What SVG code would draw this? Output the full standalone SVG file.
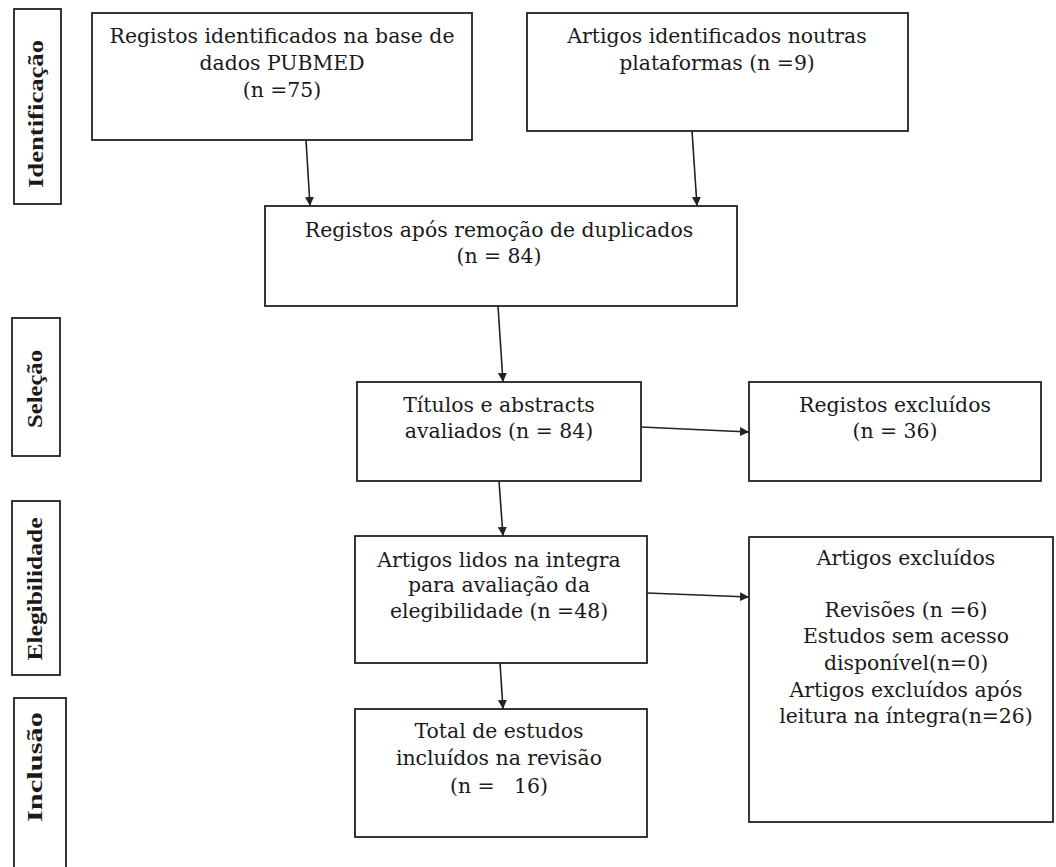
<svg xmlns="http://www.w3.org/2000/svg" width="1056" height="867" viewBox="0 0 1056 867">
<style>
.box{fill:#fff;stroke:#222;stroke-width:1.8}
.t{font-family:"DejaVu Serif","Liberation Serif",serif;font-size:20.4px;fill:#1a1a1a;text-anchor:middle}
.lab{font-family:"Liberation Serif","DejaVu Serif",serif;font-size:20px;font-weight:bold;fill:#1a1a1a;text-anchor:middle}
.c{stroke:#222;stroke-width:1.6;fill:none;marker-end:url(#ah)}
</style>
<defs>
<marker id="ah" viewBox="0 0 10 10" refX="10" refY="5" markerWidth="9" markerHeight="9" markerUnits="userSpaceOnUse" orient="auto">
<path d="M0,0 L10,5 L0,10 z" fill="#222"/>
</marker>
</defs>
<rect width="1056" height="867" fill="#fff"/>

<g id="lab-identificacao">
<rect class="box" x="14" y="9" width="47" height="195"/>
<text class="lab" transform="translate(43,114) rotate(-90)" textLength="148" lengthAdjust="spacingAndGlyphs">Identificação</text>
</g>
<g id="lab-selecao">
<rect class="box" x="12" y="318" width="48" height="138"/>
<text class="lab" transform="translate(42,389) rotate(-90)" textLength="78" lengthAdjust="spacingAndGlyphs">Seleção</text>
</g>
<g id="lab-elegibilidade">
<rect class="box" x="12" y="501" width="48" height="174"/>
<text class="lab" transform="translate(42,589) rotate(-90)" textLength="143" lengthAdjust="spacingAndGlyphs">Elegibilidade</text>
</g>
<g id="lab-inclusao">
<rect class="box" x="14" y="698" width="52" height="180"/>
<text class="lab" transform="translate(42,767) rotate(-90)" textLength="110" lengthAdjust="spacingAndGlyphs">Inclusão</text>
</g>

<g id="n-pubmed">
<rect class="box" x="92" y="13" width="380" height="127"/>
<text class="t" x="282" y="43">Registos identificados na base de</text>
<text class="t" x="282" y="70">dados PUBMED</text>
<text class="t" x="282" y="97">(n =75)</text>
</g>
<g id="n-outras">
<rect class="box" x="527" y="13" width="381" height="118"/>
<text class="t" x="717" y="43">Artigos identificados noutras</text>
<text class="t" x="717" y="70">plataformas (n =9)</text>
</g>
<g id="n-duplicados">
<rect class="box" x="265" y="206" width="472" height="100"/>
<text class="t" x="499" y="237">Registos após remoção de duplicados</text>
<text class="t" x="499" y="263">(n = 84)</text>
</g>
<g id="n-titulos">
<rect class="box" x="357" y="382" width="284" height="99"/>
<text class="t" x="499" y="412">Títulos e abstracts</text>
<text class="t" x="499" y="438">avaliados (n = 84)</text>
</g>
<g id="n-reg-excluidos">
<rect class="box" x="749" y="382" width="292" height="99"/>
<text class="t" x="895" y="412">Registos excluídos</text>
<text class="t" x="895" y="438">(n = 36)</text>
</g>
<g id="n-lidos">
<rect class="box" x="355" y="536" width="292" height="127"/>
<text class="t" x="499" y="567">Artigos lidos na integra</text>
<text class="t" x="499" y="592">para avaliação da</text>
<text class="t" x="499" y="618">elegibilidade (n =48)</text>
</g>
<g id="n-total">
<rect class="box" x="355" y="709" width="292" height="128"/>
<text class="t" x="499" y="738">Total de estudos</text>
<text class="t" x="499" y="765">incluídos na revisão</text>
<text class="t" x="499" y="793" xml:space="preserve">(n =   16)</text>
</g>
<g id="n-art-excluidos">
<rect class="box" x="749" y="537" width="304" height="285"/>
<text class="t" x="906" y="565">Artigos excluídos</text>
<text class="t" x="906" y="617">Revisões (n =6)</text>
<text class="t" x="906" y="643">Estudos sem acesso</text>
<text class="t" x="906" y="670">disponível(n=0)</text>
<text class="t" x="906" y="697">Artigos excluídos após</text>
<text class="t" x="906" y="723">leitura na íntegra(n=26)</text>
</g>

<g id="connectors">
<line class="c" x1="306" y1="140" x2="310" y2="206"/>
<line class="c" x1="692" y1="131" x2="697" y2="206"/>
<line class="c" x1="498" y1="306" x2="503" y2="382"/>
<line class="c" x1="641" y1="427" x2="749" y2="432"/>
<line class="c" x1="499" y1="481" x2="503" y2="536"/>
<line class="c" x1="500" y1="663" x2="503" y2="709"/>
<line class="c" x1="647" y1="593" x2="749" y2="597"/>
</g>
</svg>
